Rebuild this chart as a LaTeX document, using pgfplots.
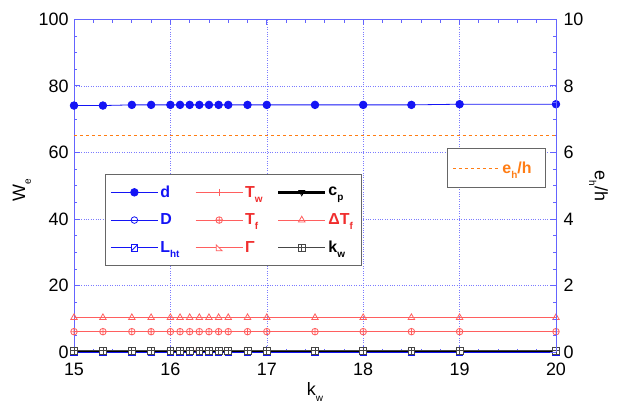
\documentclass[border=0pt]{standalone}
\usepackage{pgfplots}
\pgfplotsset{compat=1.18}
\usepackage{fontspec}
\setmainfont{Liberation Sans}
\usetikzlibrary{calc}

\definecolor{axblue}{RGB}{100,100,255}
\definecolor{sblue}{RGB}{20,20,245}
\definecolor{sred}{RGB}{255,95,95}
\definecolor{tred}{RGB}{240,45,45}
\definecolor{sorange}{RGB}{255,125,20}
\definecolor{sgray}{RGB}{70,70,70}

\newcommand{\sub}[1]{\raisebox{-0.6ex}{\fontsize{10}{10}\selectfont #1}}

% square with slash, square with plus, right triangle
\pgfdeclareplotmark{sqslash}{%
  \pgfpathrectangle{\pgfpoint{-\pgfplotmarksize}{-\pgfplotmarksize}}{\pgfpoint{2\pgfplotmarksize}{2\pgfplotmarksize}}%
  \pgfusepathqfillstroke
  \pgfpathmoveto{\pgfpoint{-\pgfplotmarksize}{-\pgfplotmarksize}}%
  \pgfpathlineto{\pgfpoint{\pgfplotmarksize}{\pgfplotmarksize}}%
  \pgfusepathqstroke}
\pgfdeclareplotmark{boxplus}{%
  \pgfpathrectangle{\pgfpoint{-\pgfplotmarksize}{-\pgfplotmarksize}}{\pgfpoint{2\pgfplotmarksize}{2\pgfplotmarksize}}%
  \pgfusepathqfillstroke
  \pgfpathmoveto{\pgfpoint{0pt}{-\pgfplotmarksize}}%
  \pgfpathlineto{\pgfpoint{0pt}{\pgfplotmarksize}}%
  \pgfpathmoveto{\pgfpoint{-\pgfplotmarksize}{0pt}}%
  \pgfpathlineto{\pgfpoint{\pgfplotmarksize}{0pt}}%
  \pgfusepathqstroke}
\pgfdeclareplotmark{rtri}{%
  \pgfpathmoveto{\pgfpoint{-\pgfplotmarksize}{-\pgfplotmarksize}}%
  \pgfpathlineto{\pgfpoint{\pgfplotmarksize}{-\pgfplotmarksize}}%
  \pgfpathlineto{\pgfpoint{-\pgfplotmarksize}{\pgfplotmarksize}}%
  \pgfpathclose
  \pgfusepathqfillstroke}

\pgfplotsset{
  common/.style={
    width=482bp, height=333bp, scale only axis,
    xmin=15, xmax=20,
    axis line style={axblue, line width=0.9bp},
    tick style={axblue, line width=0.8bp},
    tick align=inside,
    major tick length=6bp, minor tick length=3.5bp,
    tick label style={font=\fontsize{18}{20}\selectfont, black},
    /pgf/number format/assume math mode=true,
    label style={font=\fontsize{18}{20}\selectfont},
    legend image code/.code={%
      \draw[mark repeat=2,mark phase=2,##1] plot coordinates {(0bp,0bp) (23.5bp,0bp) (47bp,0bp)};},
  },
}

\begin{document}
\begin{tikzpicture}
\begin{axis}[common, name=main,
  ymin=0, ymax=100,
  xtick={15,16,...,20}, ytick={0,20,...,100},
  minor x tick num=4, minor y tick num=3,
  xtick pos=both, ytick pos=left,
  xticklabel style={yshift=-7bp},
  yticklabel style={xshift=-2bp},
  grid=major, major grid style={dotted, axblue!85, line width=0.6bp},
  xlabel={k\sub{w}}, ylabel={W\sub{e}},
  xlabel style={at={(axis description cs:0.5,-0.12)}, anchor=center},
  ylabel style={at={(axis description cs:-0.108,0.486)}, anchor=center},
  legend columns=3,
  legend cell align=left,
  legend style={at={(0.0643,0.5345)}, anchor=north west,
    draw=gray!80!black, fill=white, line width=1bp,
    inner xsep=5bp, inner ysep=9bp, row sep=11bp,
    font=\fontsize{16}{18}\selectfont\bfseries},
]
% row 1
\addplot[sblue, line width=0.8bp, mark=*, mark size=3.8bp] coordinates {
 (15,74.1) (15.3,74.1) (15.6,74.3) (15.8,74.3) (16,74.3) (16.1,74.3) (16.2,74.3)
 (16.3,74.3) (16.4,74.3) (16.5,74.3) (16.6,74.3) (16.8,74.3) (17,74.3) (17.5,74.3)
 (18,74.3) (18.5,74.3) (19,74.5) (20,74.5)};
\addlegendentry{\makebox[33bp][l]{\textcolor{sblue}{d}}}
\addplot[sred, line width=0.8bp, mark=+, mark size=3.5bp] coordinates {
 (15,0.45) (15.3,0.45) (15.6,0.45) (15.8,0.45) (16,0.45) (16.1,0.45) (16.2,0.45)
 (16.3,0.45) (16.4,0.45) (16.5,0.45) (16.6,0.45) (16.8,0.45) (17,0.45) (17.5,0.45)
 (18,0.45) (18.5,0.45) (19,0.45) (20,0.45)};
\addlegendentry{\makebox[30bp][l]{\textcolor{tred}{T\sub{w}}}}
\addplot[black, line width=2.4bp, mark=triangle, mark options={rotate=180, fill=white, line width=0.8bp}, mark size=3.4bp] coordinates {
 (15,0.4) (15.3,0.4) (15.6,0.4) (15.8,0.4) (16,0.4) (16.1,0.4) (16.2,0.4)
 (16.3,0.4) (16.4,0.4) (16.5,0.4) (16.6,0.4) (16.8,0.4) (17,0.4) (17.5,0.4)
 (18,0.4) (18.5,0.4) (19,0.4) (20,0.4)};
\addlegendentry{\makebox[26bp][l]{c\sub{p}}}
% row 2
\addplot[sblue, line width=0.8bp, mark=o, mark options={fill=white}, mark size=3.3bp] coordinates {
 (15,0.1) (15.3,0.1) (15.6,0.1) (15.8,0.1) (16,0.1) (16.1,0.1) (16.2,0.1)
 (16.3,0.1) (16.4,0.1) (16.5,0.1) (16.6,0.1) (16.8,0.1) (17,0.1) (17.5,0.1)
 (18,0.1) (18.5,0.1) (19,0.1) (20,0.1)};
\addlegendentry{\makebox[33bp][l]{\textcolor{sblue}{D}}}
\addplot[sred, line width=0.8bp, mark=oplus, mark options={fill=white}, mark size=3.3bp] coordinates {
 (15,6.2) (15.3,6.2) (15.6,6.2) (15.8,6.2) (16,6.2) (16.1,6.2) (16.2,6.2)
 (16.3,6.2) (16.4,6.2) (16.5,6.2) (16.6,6.2) (16.8,6.2) (17,6.2) (17.5,6.2)
 (18,6.2) (18.5,6.2) (19,6.2) (20,6.2)};
\addlegendentry{\makebox[30bp][l]{\textcolor{tred}{T\sub{f}}}}
\addplot[sred, line width=0.8bp, mark=triangle, mark options={fill=white}, mark size=3.8bp] coordinates {
 (15,10.4) (15.3,10.4) (15.6,10.4) (15.8,10.4) (16,10.4) (16.1,10.4) (16.2,10.4)
 (16.3,10.4) (16.4,10.4) (16.5,10.4) (16.6,10.4) (16.8,10.4) (17,10.4) (17.5,10.4)
 (18,10.4) (18.5,10.4) (19,10.4) (20,10.4)};
\addlegendentry{\makebox[26bp][l]{\textcolor{tred}{ΔT\sub{f}}}}
% row 3
\addplot[sblue, line width=0.8bp, mark=sqslash, mark options={fill=white}, mark size=3.2bp] coordinates {
 (15,0.0) (15.3,0.0) (15.6,0.0) (15.8,0.0) (16,0.0) (16.1,0.0) (16.2,0.0)
 (16.3,0.0) (16.4,0.0) (16.5,0.0) (16.6,0.0) (16.8,0.0) (17,0.0) (17.5,0.0)
 (18,0.0) (18.5,0.0) (19,0.0) (20,0.0)};
\addlegendentry{\makebox[33bp][l]{\textcolor{sblue}{L\sub{ht}}}}
\addplot[sred, line width=0.8bp, mark=rtri, mark options={fill=white}, mark size=3bp] coordinates {
 (15,0.45) (15.3,0.45) (15.6,0.45) (15.8,0.45) (16,0.45) (16.1,0.45) (16.2,0.45)
 (16.3,0.45) (16.4,0.45) (16.5,0.45) (16.6,0.45) (16.8,0.45) (17,0.45) (17.5,0.45)
 (18,0.45) (18.5,0.45) (19,0.45) (20,0.45)};
\addlegendentry{\makebox[30bp][l]{\textcolor{tred}{Γ}}}
\addplot[sgray, line width=0.8bp, mark=boxplus, mark options={fill=white}, mark size=3.4bp] coordinates {
 (15,0.5) (15.3,0.5) (15.6,0.5) (15.8,0.5) (16,0.5) (16.1,0.5) (16.2,0.5)
 (16.3,0.5) (16.4,0.5) (16.5,0.5) (16.6,0.5) (16.8,0.5) (17,0.5) (17.5,0.5)
 (18,0.5) (18.5,0.5) (19,0.5) (20,0.5)};
\addlegendentry{\makebox[26bp][l]{k\sub{w}}}
\end{axis}

\begin{axis}[common,
  ymin=0, ymax=10, ytick={0,2,...,10}, minor y tick num=3,
  axis y line*=right, axis x line=none,
  yticklabel style={xshift=4bp},
  ylabel={e\sub{h}/h},
  ylabel style={at={(axis description cs:1.088,0.5)}, anchor=center, rotate=180},
  legend style={at={(0.774,0.613)}, anchor=north west,
    draw=gray!80!black, fill=white, line width=1bp,
    inner xsep=5bp, inner ysep=11bp,
    font=\fontsize{16}{18}\selectfont\bfseries},
]
\addplot[sorange, dashed, line width=0.9bp] coordinates {(15,6.5) (20,6.5)};
\addlegendentry{\makebox[36bp][l]{\textcolor{sorange}{e\sub{h}/h}}}
\end{axis}

\pgfresetboundingbox
\path[use as bounding box] ($(main.south west)+(-74bp,-53bp)$) rectangle ($(main.north east)+(61bp,19.3bp)$);
\end{tikzpicture}
\end{document}
